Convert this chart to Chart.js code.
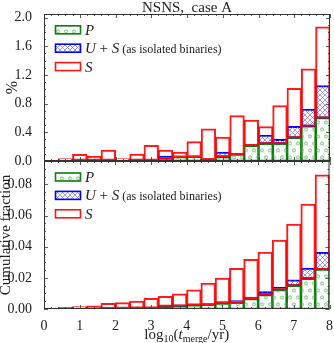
<!DOCTYPE html>
<html>
<head>
<meta charset="utf-8">
<script src="https://cdn.jsdelivr.net/npm/chart.js@4.4.0/dist/chart.umd.min.js"></script>
<style>
html, body { margin: 0; padding: 0; background: #fff; }
#wrap { position: relative; width: 334px; height: 343px; }
#wrap canvas { position: absolute; left: 0; top: 0; }
</style>
</head>
<body>
<div id="wrap">
  <canvas id="rateChart" width="334" height="343"></canvas>
  <canvas id="cumChart" width="334" height="343"></canvas>
</div>
<script>
// log10(t_merge/yr) bins, width 0.4
var binCenters = [0.2, 0.6, 1.0, 1.4, 1.8, 2.2, 2.6, 3.0, 3.4, 3.8, 4.2, 4.6, 5.0, 5.4, 5.8, 6.2, 6.6, 7.0, 7.4, 7.8];

// top panel, per cent (levels of bar tops)
var pPct  = [0, 0.01, 0.01, 0.01, 0.01, 0.01, 0.01, 0.01, 0.03, 0.055, 0.06, 0.02, 0.055, 0.09, 0.215, 0.24, 0.24, 0.325, 0.485, 0.60];
var usPct = [0.005, 0.01, 0.01, 0.01, 0.01, 0.01, 0.01, 0.01, 0.067, 0.055, 0.06, 0.02, 0.123, 0.10, 0.225, 0.36, 0.30, 0.48, 0.72, 1.05];
var sPct  = [0.005, 0.03, 0.09, 0.067, 0.15, 0.03, 0.095, 0.215, 0.15, 0.123, 0.27, 0.448, 0.33, 0.63, 0.57, 0.476, 0.77, 1.01, 1.283, 1.87];

// bottom panel, cumulative fraction
var pCum  = [0, 0.0001, 0.0002, 0.0003, 0.0004, 0.0005, 0.0006, 0.0007, 0.0017, 0.002, 0.0025, 0.0027, 0.0035, 0.004, 0.0064, 0.009, 0.0123, 0.0149, 0.0194, 0.0254];
var usCum = [0.0002, 0.0003, 0.0004, 0.0005, 0.0006, 0.0007, 0.0008, 0.0009, 0.0023, 0.0026, 0.003, 0.0034, 0.0047, 0.0053, 0.0075, 0.011, 0.0139, 0.0186, 0.0262, 0.0363];
var sCum  = [0.0004, 0.0009, 0.0015, 0.002, 0.0036, 0.004, 0.005, 0.0068, 0.0081, 0.0096, 0.0122, 0.0166, 0.0198, 0.026, 0.0318, 0.0365, 0.0442, 0.0544, 0.0672, 0.086];

var rateTicks = [0.0, 0.4, 0.8, 1.2, 1.6, 2.0];
var cumTicks = [0.00, 0.02, 0.04, 0.06, 0.08];
var xTicks = [0, 1, 2, 3, 4, 5, 6, 7, 8];

var SERIF = '"Liberation Serif", "DejaVu Serif", serif';
var INK = '#222';
var GREEN = '#0b7f0b', BLUE = '#0000ff', RED = 'rgba(255,0,0,0.9)';

function starFill() {
  var c = document.createElement('canvas');
  c.width = 8; c.height = 14;
  var g = c.getContext('2d');
  g.strokeStyle = '#78c078';
  g.lineWidth = 0.7;
  function star(cx, cy) {
    g.beginPath();
    for (var k = 0; k < 10; k++) {
      var ang = -Math.PI / 2 + k * Math.PI / 5;
      var rad = k % 2 ? 0.9 : 2.1;
      g.lineTo(cx + rad * Math.cos(ang), cy + rad * Math.sin(ang));
    }
    g.closePath();
    g.stroke();
  }
  star(2, 3.5); star(6, 10.5);
  return g.createPattern(c, 'repeat');
}

function crossFill() {
  var c = document.createElement('canvas');
  c.width = 5; c.height = 5;
  var g = c.getContext('2d');
  g.strokeStyle = '#7373ff';
  g.lineWidth = 0.7;
  g.beginPath();
  g.moveTo(-1, -1); g.lineTo(6, 6);
  g.moveTo(6, -1); g.lineTo(-1, 6);
  g.stroke();
  return g.createPattern(c, 'repeat');
}

var greenFill = starFill();
var blueFill = crossFill();

function bars(lo, hi) {
  var out = [];
  binCenters.forEach(function (x, i) {
    var a = lo ? lo[i] : 0;
    if (hi[i] - a > 0) out.push({ x: x, y: [a, hi[i]] });
  });
  return out;
}

function datasets(p, us, s) {
  return [
    { label: 'S', data: bars(p, s), backgroundColor: 'rgba(0,0,0,0)', borderColor: RED,
      borderWidth: 1, inflateAmount: 0.5, borderSkipped: false },
    { label: 'U + S', data: bars(p, us), backgroundColor: blueFill, borderColor: BLUE,
      borderWidth: 1, inflateAmount: 0.5, borderSkipped: false },
    { label: 'P', data: bars(null, p), backgroundColor: greenFill, borderColor: GREEN,
      borderWidth: 1, inflateAmount: 0.3, borderSkipped: false }
  ];
}

var legendItems = [
  { fill: greenFill, stroke: GREEN, parts: [['P', 'italic 15px ' + SERIF]] },
  { fill: blueFill, stroke: BLUE, parts: [['U', 'italic 15px ' + SERIF], [' + ', '15px ' + SERIF], ['S', 'italic 15px ' + SERIF], [' (as isolated binaries)', '12px ' + SERIF]] },
  { fill: null, stroke: 'rgb(255,20,20)', parts: [['S', 'italic 15px ' + SERIF]] }
];

function drawParts(ctx, parts, x, y) {
  parts.forEach(function (pt) {
    ctx.font = pt[1];
    ctx.fillText(pt[0], x + (pt[2] || 0), y + (pt[3] || 0));
    x += ctx.measureText(pt[0]).width;
  });
}

function partsWidth(ctx, parts) {
  var w = 0;
  parts.forEach(function (pt) { ctx.font = pt[1]; w += ctx.measureText(pt[0]).width; });
  return w;
}

var decor = {
  id: 'decor',
  afterDatasetsDraw: function (chart, args, o) {
    var ctx = chart.ctx, a = chart.chartArea;
    var xs = chart.scales.x, ys = chart.scales.y;
    ctx.save();
    // ticks, inward on all four sides
    ctx.strokeStyle = '#333';
    ctx.lineWidth = 0.8;
    ctx.beginPath();
    var n = Math.round((xs.max - xs.min) / o.xMinor);
    for (var i = 0; i <= n; i++) {
      var v = xs.min + i * o.xMinor;
      var major = Math.abs(v / o.xMajor - Math.round(v / o.xMajor)) < 1e-6;
      var len = major ? 4 : 2;
      var px = Math.round(xs.getPixelForValue(v)) + 0.5;
      ctx.moveTo(px, a.bottom); ctx.lineTo(px, a.bottom - len);
      ctx.moveTo(px, a.top); ctx.lineTo(px, a.top + len);
    }
    n = Math.floor((ys.max - ys.min) / o.yMinor + 1e-6);
    for (i = 0; i <= n; i++) {
      v = ys.min + i * o.yMinor;
      major = Math.abs(v / o.yMajor - Math.round(v / o.yMajor)) < 1e-6;
      len = major ? 4 : 2;
      var py = Math.round(ys.getPixelForValue(v)) + 0.5;
      ctx.moveTo(a.left, py); ctx.lineTo(a.left + len, py);
      ctx.moveTo(a.right, py); ctx.lineTo(a.right - len, py);
    }
    ctx.stroke();
    ctx.lineWidth = 1;
    ctx.strokeRect(a.left + 0.5, a.top + 0.5, a.right - a.left - 1, a.bottom - a.top - 1);

    // legend inside the panel
    ctx.textBaseline = 'alphabetic';
    ctx.fillStyle = INK;
    legendItems.forEach(function (it, k) {
      var cy = o.legendY + k * 18.4;
      if (it.fill) {
        ctx.fillStyle = it.fill;
        ctx.fillRect(55.5, cy - 4, 25, 8);
      }
      ctx.strokeStyle = it.stroke;
      ctx.lineWidth = 1.6;
      ctx.strokeRect(55.5, cy - 4, 25, 8);
      ctx.fillStyle = INK;
      drawParts(ctx, it.parts, 85, cy + 5);
    });

    // panel title / x-axis title
    if (o.title) {
      ctx.font = '15px ' + SERIF;
      ctx.textAlign = 'center';
      ctx.fillText(o.title, (a.left + a.right) / 2, 12);
      ctx.textAlign = 'left';
    }
    if (o.xTitle) {
      var big = '15px ' + SERIF, small = '10px ' + SERIF;
      var parts = [['log', big], ['10', small, 0, 3], ['(', big], ['t', 'italic 15px ' + SERIF], ['merge', small, 0, 3], ['/yr)', big]];
      var w = partsWidth(ctx, parts);
      drawParts(ctx, parts, (a.left + a.right) / 2 - w / 2, 339);
    }
    ctx.restore();
  }
};

function yAxis(max, ticks, digits, title, titleSize, titlePad) {
  return {
    min: 0, max: max,
    afterFit: function (s) { s.width = 44; },
    afterBuildTicks: function (s) { s.ticks = ticks.map(function (v) { return { value: v }; }); },
    ticks: { font: { family: SERIF, size: 14 }, color: INK, padding: 4,
      callback: function (v) { return v.toFixed(digits); } },
    grid: { display: false },
    border: { display: false },
    title: { display: true, text: title, color: INK, font: { family: SERIF, size: titleSize, lineHeight: 1 },
      padding: { top: titlePad, bottom: 0 } }
  };
}

var common = {
  responsive: false,
  animation: false,
  datasets: { bar: { grouped: false, barPercentage: 1, categoryPercentage: 1 } },
  plugins: { legend: { display: false }, tooltip: { enabled: false } }
};

new Chart(document.getElementById('rateChart'), {
  type: 'bar',
  data: { datasets: datasets(pPct, usPct, sPct) },
  options: Object.assign({}, common, {
    layout: { padding: { left: 0, right: 4, top: 14, bottom: 182 } },
    scales: {
      x: { type: 'linear', min: 0, max: 8, offset: false, display: false },
      y: yAxis(2.05, rateTicks, 1, '%', 16, 5)
    },
    plugins: Object.assign({}, common.plugins, {
      decor: { xMinor: 0.2, xMajor: 1, yMinor: 0.1, yMajor: 0.4, legendY: 29.8, title: 'NSNS,  case A' }
    })
  }),
  plugins: [decor]
});

new Chart(document.getElementById('cumChart'), {
  type: 'bar',
  data: { datasets: datasets(pCum, usCum, sCum) },
  options: Object.assign({}, common, {
    layout: { padding: { left: 0, right: 4, top: 161, bottom: 0 } },
    scales: {
      x: { type: 'linear', min: 0, max: 8, offset: false,
        afterFit: function (s) { s.height = 34; },
        afterBuildTicks: function (s) { s.ticks = xTicks.map(function (v) { return { value: v }; }); },
        ticks: { font: { family: SERIF, size: 14 }, color: INK, padding: 1, maxRotation: 0 },
        grid: { display: false }, border: { display: false } },
      y: yAxis(0.095, cumTicks, 2, 'Cumulative fraction', 15, -1)
    },
    plugins: Object.assign({}, common.plugins, {
      decor: { xMinor: 0.2, xMajor: 1, yMinor: 0.005, yMajor: 0.02, legendY: 177, xTitle: true }
    })
  }),
  plugins: [decor]
});
</script>
</body>
</html>
